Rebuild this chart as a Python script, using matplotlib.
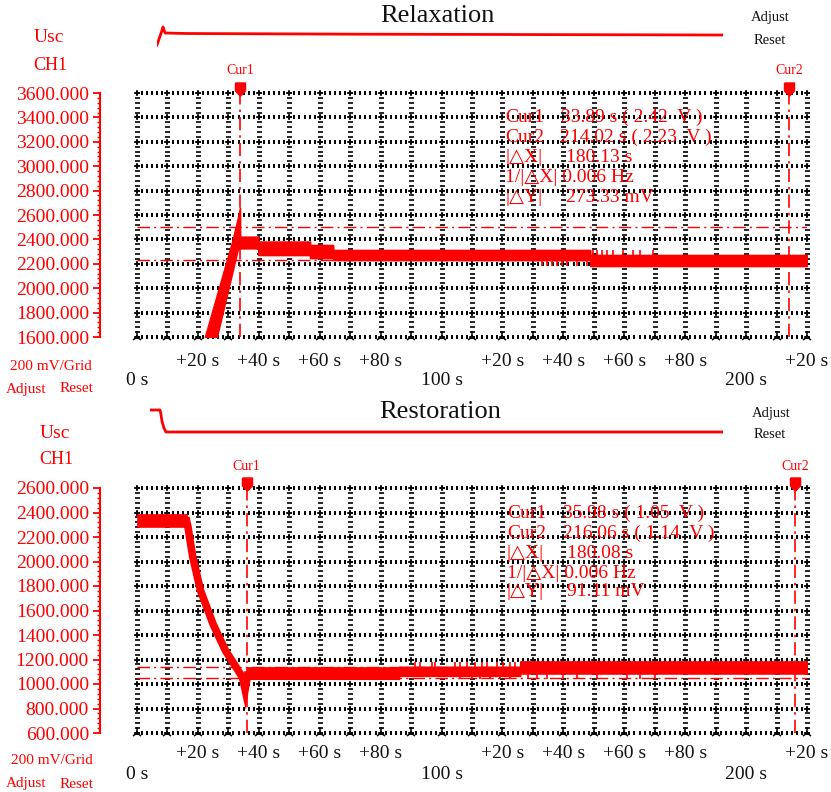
import numpy as np
import matplotlib
matplotlib.use("Agg")
import matplotlib.pyplot as plt
from matplotlib import transforms

plt.rcParams['font.family'] = ['Liberation Serif', 'DejaVu Serif']

W, H = 831, 792
RED = '#ff0000'

# ---------------- data ----------------
# time axis (s)
x_min, x_max = 0, 220
row1_ticks = [20, 40, 60, 80, 120, 140, 160, 180, 220]
row1_labels = ['+20 s', '+40 s', '+60 s', '+80 s', '+20 s', '+40 s', '+60 s', '+80 s', '+20 s']
row2_ticks = [0, 100, 200]
row2_labels = ['0 s', '100 s', '200 s']

# Relaxation (top) : envelope of the recorded band (mV)
top_t = [22.3, 26.2, 31.4, 33.15, 33.8, 33.85, 39.8, 39.85, 56.8, 56.85, 64.4, 64.45, 148.8, 148.85, 220]
top_up = [1600, 1940, 2395, 2578, 2657, 2422, 2422, 2382, 2382, 2354, 2354, 2313, 2313, 2272, 2272]
top_lo = [1600, 1600, 2143, 2327, 2327, 2327, 2327, 2272, 2272, 2247, 2247, 2231, 2231, 2182, 2182]
top_dn_spikes_t = [133.0, 134.7, 136.3, 138.0, 139.6, 141.2, 144.5, 147.8]
top_up_spikes_t = [149.8, 151.1, 152.7, 154.4, 156.3, 159.6, 162.9, 165.2, 169.5]
top_spike_lo, top_spike_hi = 2182, 2313
top_yticks = [1600, 1800, 2000, 2200, 2400, 2600, 2800, 3000, 3200, 3400, 3600]
top_cursor_t = [33.89, 214.02]
top_cursor_v = [2503, 2230]
top_overview_t = [0, 10, 12, 16, 60, 400, 1130]
top_overview_v = [1560, 2450, 2657, 2291, 2260, 2220, 2169]
top_info = [("Cur1", "33.89 s ( 2.42  V )"),
            ("Cur2", "214.02 s ( 2.23  V )"),
            ("|\u25b3X|", "180.13 s"),
            ("1/|\u25b3X| 0.006 Hz", None),
            ("|\u25b3Y|", "273.33 mV")]

# Restoration (bottom)
bot_flat_t = [0.2, 16.3]
bot_flat_up = [2379, 2379]
bot_flat_lo = [2280, 2280]
bot_desc_t = [16.3, 16.75, 18.3, 20.85, 24.95, 29.05, 31.9, 34.65, 35.5, 36.3]
bot_desc_v = [2330, 2280, 2037, 1764, 1491, 1272, 1163, 1053, 955, 1070]
bot_t = [36.3, 86.0, 86.05, 125.8, 125.85, 221]
bot_up = [1135, 1135, 1140, 1140, 1184, 1184]
bot_lo = [1043, 1043, 1067, 1067, 1086, 1086]
bot_up_spikes_t = [91.3, 92.9, 96.9, 97.9, 104.4, 106.1, 108.4, 111.0, 113.3, 114.9, 118.2, 120.2, 122.5, 124.1]
bot_up_spike_v = 1177
bot_dn_spikes_t = [106.1, 110.0, 112.6, 115.9, 119.2, 122.5, 128.4, 131.4, 134.6, 139.9, 144.5, 151.1, 160.9, 165.2, 170.1]
bot_dn_spike_v = 1043
bot_yticks = [600, 800, 1000, 1200, 1400, 1600, 1800, 2000, 2200, 2400, 2600]
bot_cursor_t = [35.98, 216.06]
bot_cursor_v = [1138, 1047]
bot_overview_t = [0, 20, 21.5, 24, 28, 32, 1146]
bot_overview_v = [2330, 2330, 2150, 1700, 1300, 1090, 1090]
bot_info = [("Cur1", "35.98 s ( 1.05  V )"),
            ("Cur2", "216.06 s ( 1.14  V )"),
            ("|\u25b3X|", "180.08 s"),
            ("1/|\u25b3X| 0.006 Hz", None),
            ("|\u25b3Y|", "91.11 mV")]

# ---------------- helpers ----------------
fig = plt.figure(figsize=(W / 100, H / 100), dpi=100)
fig.patch.set_facecolor('white')


def fx(px):
    return px / W


def fy(py):
    return 1 - py / H


def ftext(px, py, s, **kw):
    fig.text(fx(px), fy(py), s, ha=kw.pop('ha', 'center'), va=kw.pop('va', 'center'), **kw)


def draw_grid(ax, yticks):
    y0, y1 = yticks[0], yticks[-1]
    xs = np.arange(x_min, x_max + 1, 10)
    ys = np.array(yticks)
    step = (yticks[1] - yticks[0]) / 5
    ym = np.arange(y0, y1 + 0.1, step)
    VX, VY = np.meshgrid(xs, ym)
    ax.plot(VX.ravel(), VY.ravel(), ls='none', marker='_', ms=3.6, mew=1.2, color='k', clip_on=False, zorder=1)
    xm = np.arange(x_min, x_max + 0.01, 10 / 6)
    HX, HY = np.meshgrid(xm, ys)
    ax.plot(HX.ravel(), HY.ravel(), ls='none', marker='|', ms=2.4, mew=1.4, color='k', clip_on=False, zorder=1)
    CX, CY = np.meshgrid(xs, ys[1:])
    ax.plot(CX.ravel(), CY.ravel(), ls='none', marker='+', ms=5, mew=1.1, color='k', clip_on=False, zorder=1)
    ax.plot(xs, np.full(len(xs), y0), ls='none', marker='2', ms=8, mew=1.1, color='k', clip_on=False, zorder=1)
    ax.plot(xs, np.full(len(xs), y0), ls='none', marker='_', ms=5, mew=1.1, color='k', clip_on=False, zorder=1)


flag = [(-5, 6.5), (5, 6.5), (5, -1.5), (0, -6.5), (-5, -1.5), (-5, 6.5)]


def setup_main(ax, yticks, pad1, pad2):
    ax.set_xlim(x_min, x_max)
    ax.set_ylim(yticks[0], yticks[-1])
    for s in ['top', 'right', 'bottom']:
        ax.spines[s].set_visible(False)
    ax.spines['left'].set_position(('outward', 26.6))
    ax.spines['left'].set_color(RED)
    ax.spines['left'].set_linewidth(1.5)
    ax.set_yticks(yticks)
    ax.set_yticklabels([f"{v:.3f}" for v in yticks])
    ax.set_yticks(np.arange(yticks[0], yticks[-1] + 1, 40), minor=True)
    ax.tick_params(axis='y', which='major', colors=RED, length=5, width=1.3, labelsize=14, pad=3)
    ax.tick_params(axis='y', which='minor', colors=RED, length=2.2, width=1.0)
    ax.set_xticks(row1_ticks)
    ax.set_xticklabels(row1_labels)
    ax.set_xticks(row2_ticks, minor=True)
    ax.set_xticklabels(row2_labels, minor=True)
    ax.tick_params(axis='x', which='major', length=0, labelsize=14, pad=pad1, colors='#111111')
    ax.tick_params(axis='x', which='minor', length=0, labelsize=14, pad=pad2, colors='#111111')
    ax.patch.set_alpha(0)


def cursors(ax, ct, cv):
    for v in cv:
        ax.axhline(v, color=RED, lw=1.0, ls=(0, (9, 3, 1.5, 3)), zorder=2)
    base = ax.get_xaxis_transform()
    for i, t in enumerate(ct):
        ax.axvline(t, color=RED, lw=1.2, ls=(0, (8, 3, 1.5, 3)), zorder=2)
        tr = transforms.offset_copy(base, fig=fig, y=4.5, units='dots')
        ax.plot([t], [1.0], marker=flag, ms=9.4, color=RED, mec=RED, transform=tr, clip_on=False, zorder=6)
        tr2 = transforms.offset_copy(base, fig=fig, y=22, units='dots')
        ax.text(t, 1.0, f"Cur{i + 1}", transform=tr2, color=RED, fontsize=10, ha='center', va='center')


def info(lines, x_lab, x_val, ys):
    for (lab, val), xv, yy in zip(lines, x_val, ys):
        ftext(x_lab, yy, lab, color=RED, fontsize=14, ha='left')
        if val is not None:
            ftext(xv, yy, val, color=RED, fontsize=14, ha='left')


# ---------------- top panel ----------------
ax1 = fig.add_axes([fx(137), fy(337), fx(670), 244 / H])
setup_main(ax1, top_yticks, 11.5, 25)
draw_grid(ax1, top_yticks)
ax1.fill_between(top_t, top_lo, top_up, color=RED, lw=1.2, edgecolor=RED, zorder=4)
ax1.vlines(top_dn_spikes_t, top_spike_lo, top_spike_lo + 60, color=RED, lw=1.2, zorder=4)
ax1.vlines(top_up_spikes_t, top_spike_hi - 60, top_spike_hi, color=RED, lw=1.2, zorder=4)
cursors(ax1, top_cursor_t, top_cursor_v)
info(top_info, 505, [561, 560, 566, None, 566], [117, 137, 157, 178, 198])

ov1 = fig.add_axes([fx(157), fy(50), fx(566), 30 / H])
ov1.plot(top_overview_t, top_overview_v, color=RED, lw=2)
ov1.set_xlim(0, 1130)
ov1.set_ylim(1255, 3084)
ov1.axis('off')

ftext(437, 16, 'Relaxation', fontsize=19, color='#111111')
ftext(770, 17, 'Adjust', fontsize=10.5, color='#111111')
ftext(770, 41, 'Reset', fontsize=10.5, color='#111111')
ftext(49, 38, 'Usc', fontsize=14, color=RED)
ftext(50, 65, 'CH1', fontsize=13, color=RED)
ftext(51, 366, '200 mV/Grid', fontsize=11, color=RED)
ftext(26, 389, 'Adjust', fontsize=11, color=RED)
ftext(76, 389, 'Reset', fontsize=11, color=RED)

# ---------------- bottom panel ----------------
ax2 = fig.add_axes([fx(137), fy(733), fx(670), 245 / H])
setup_main(ax2, bot_yticks, 9, 24)
draw_grid(ax2, bot_yticks)
ax2.fill_between(bot_flat_t, bot_flat_lo, bot_flat_up, color=RED, lw=1.2, edgecolor=RED, zorder=4)
ax2.plot(bot_desc_t, bot_desc_v, color=RED, lw=5.5, solid_joinstyle='miter', zorder=4)
ax2.fill_between(bot_t, bot_lo, bot_up, color=RED, lw=1.2, edgecolor=RED, zorder=4)
ax2.vlines(bot_up_spikes_t, bot_up[0], bot_up_spike_v, color=RED, lw=1.2, zorder=4)
ax2.vlines(bot_dn_spikes_t, bot_dn_spike_v, bot_lo[-1], color=RED, lw=1.2, zorder=4)
cursors(ax2, bot_cursor_t, bot_cursor_v)
info(bot_info, 507, [563, 563, 567, None, 567], [513, 533, 553, 573, 592])

ov2 = fig.add_axes([fx(150), fy(440), fx(573), 40 / H])
ov2.plot(bot_overview_t, bot_overview_v, color=RED, lw=2)
ov2.set_xlim(0, 1146)
ov2.set_ylim(639, 2894)
ov2.axis('off')

ftext(440, 412, 'Restoration', fontsize=19, color='#111111')
ftext(771, 413, 'Adjust', fontsize=10.5, color='#111111')
ftext(770, 435, 'Reset', fontsize=10.5, color='#111111')
ftext(55, 433, 'Usc', fontsize=14, color=RED)
ftext(56, 460, 'CH1', fontsize=13, color=RED)
ftext(52, 760, '200 mV/Grid', fontsize=11, color=RED)
ftext(26, 784, 'Adjust', fontsize=11, color=RED)
ftext(76, 784, 'Reset', fontsize=11, color=RED)

fig.savefig('out.png', dpi=100)
